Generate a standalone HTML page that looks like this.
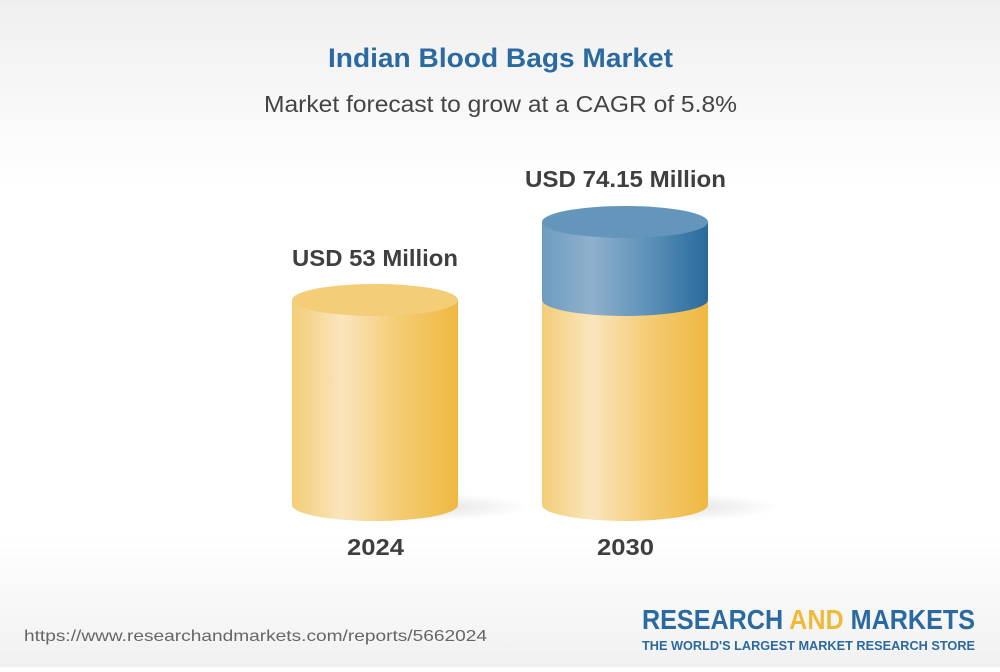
<!DOCTYPE html>
<html><head><style>
html,body{margin:0;padding:0}
body{width:1000px;height:667px;overflow:hidden;font-family:"Liberation Sans",sans-serif}
</style></head><body>
<svg width="1000" height="667" viewBox="0 0 1000 667" xmlns="http://www.w3.org/2000/svg">
<defs>
<linearGradient id="bg" x1="0" y1="0" x2="0" y2="1">
<stop offset="0" stop-color="#efefef"/><stop offset="0.28" stop-color="#ffffff"/><stop offset="0.8" stop-color="#ffffff"/><stop offset="1" stop-color="#f1f1f1"/>
</linearGradient>
<linearGradient id="gold" x1="0" y1="0" x2="1" y2="0">
<stop offset="0" stop-color="#f3cd78"/><stop offset="0.3" stop-color="#fae5bd"/><stop offset="0.65" stop-color="#f4cb73"/><stop offset="1" stop-color="#efb840"/>
</linearGradient>
<linearGradient id="blue" x1="0" y1="0" x2="1" y2="0">
<stop offset="0" stop-color="#6d9cc0"/><stop offset="0.3" stop-color="#8fb1cc"/><stop offset="0.65" stop-color="#5d90b8"/><stop offset="1" stop-color="#286a9c"/>
</linearGradient>
<radialGradient id="sh" cx="0.5" cy="0.5" r="0.5">
<stop offset="0" stop-color="#000" stop-opacity="0.12"/><stop offset="1" stop-color="#000" stop-opacity="0"/>
</radialGradient>
</defs>
<rect width="1000" height="667" fill="url(#bg)"/>
<text x="328" y="67" font-size="27" font-weight="bold" fill="#2a6aa0" textLength="345" lengthAdjust="spacingAndGlyphs">Indian Blood Bags Market</text>
<text x="264" y="112" font-size="23" fill="#444" textLength="473" lengthAdjust="spacingAndGlyphs">Market forecast to grow at a CAGR of 5.8%</text>

<ellipse cx="420" cy="507" rx="110" ry="14" fill="url(#sh)"/>
<ellipse cx="670" cy="507" rx="110" ry="14" fill="url(#sh)"/>

<path d="M292 300 V505 A83 16 0 0 0 458 505 V300 Z" fill="url(#gold)"/>
<ellipse cx="375" cy="300" rx="83" ry="16" fill="#f4cd78"/>

<path d="M542 300 V505 A83 16 0 0 0 708 505 V300 Z" fill="url(#gold)"/>
<path d="M542 222 V300 A83 16 0 0 0 708 300 V222 Z" fill="url(#blue)"/>
<ellipse cx="625" cy="222" rx="83" ry="16" fill="#6496bc"/>

<text x="292" y="266" font-size="23" font-weight="bold" fill="#3f3f3f" textLength="166" lengthAdjust="spacingAndGlyphs">USD 53 Million</text>
<text x="525" y="187" font-size="23" font-weight="bold" fill="#3f3f3f" textLength="201" lengthAdjust="spacingAndGlyphs">USD 74.15 Million</text>
<text x="347" y="555" font-size="23" font-weight="bold" fill="#3f3f3f" textLength="57" lengthAdjust="spacingAndGlyphs">2024</text>
<text x="597" y="555" font-size="23" font-weight="bold" fill="#3f3f3f" textLength="57" lengthAdjust="spacingAndGlyphs">2030</text>

<text x="24" y="641" font-size="16" fill="#666" textLength="463" lengthAdjust="spacingAndGlyphs">https://www.researchandmarkets.com/reports/5662024</text>
<text x="642" y="629" font-size="28" font-weight="bold" fill="#2a6aa0" textLength="333" lengthAdjust="spacingAndGlyphs">RESEARCH <tspan fill="#f0b93a">AND</tspan> MARKETS</text>
<text x="642" y="650" font-size="12.5" font-weight="bold" fill="#2a6aa0" textLength="333" lengthAdjust="spacingAndGlyphs">THE WORLD'S LARGEST MARKET RESEARCH STORE</text>
</svg>
</body></html>
